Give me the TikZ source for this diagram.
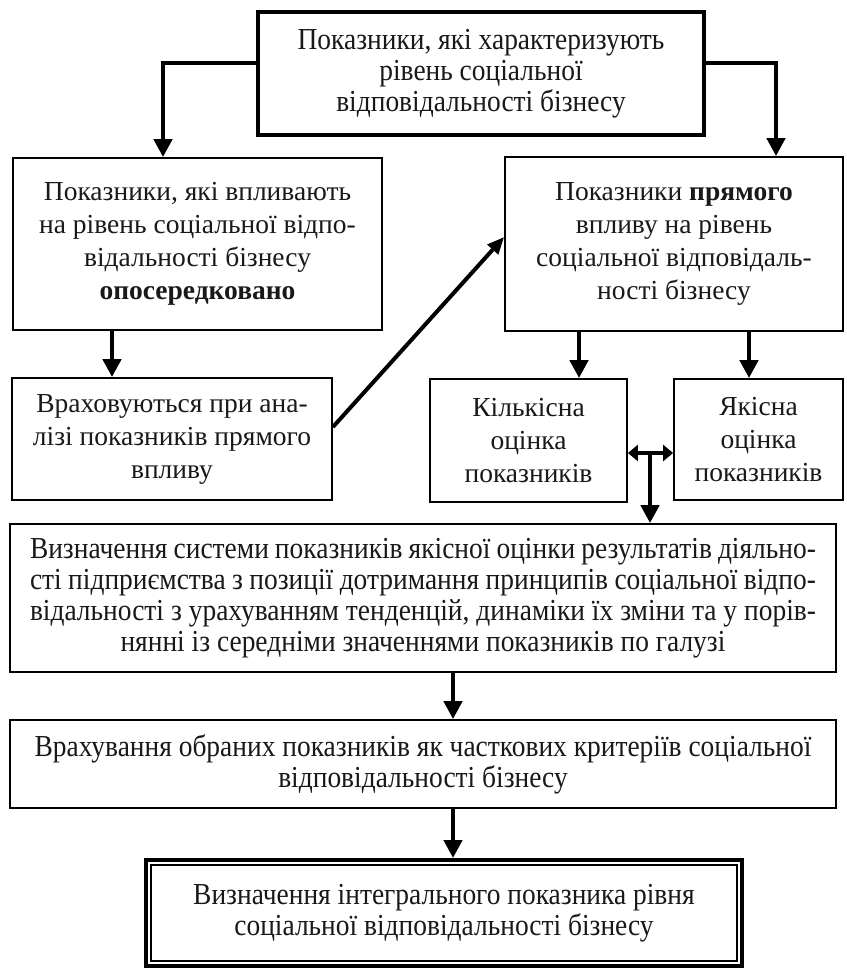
\documentclass[tikz,border=0pt]{standalone}
\usepackage{fontspec}
\setmainfont{Liberation Serif}
\newfontfamily\condfont[FakeStretch=0.9]{Liberation Serif}
\usetikzlibrary{arrows.meta,calc}
\newcommand{\bodyfs}{\fontsize{27.5pt}{33pt}\selectfont}
\newcommand{\condfs}{\condfont\fontsize{30.5pt}{31pt}\selectfont}
\newcommand{\jline}[1]{\makebox[786pt][s]{#1}}
\begin{document}
\begin{tikzpicture}[x=1pt,y=-1pt,
  box/.style={draw=black, line width=1.8pt, inner sep=0pt, align=center, font=\bodyfs, text=black!90},
  arr/.style={line width=4.5pt, -{Triangle[length=18pt,width=18pt]}},
  thinarr/.style={line width=4pt, -{Triangle[length=17pt,width=14pt]}},
  darr/.style={line width=4pt, {Triangle[length=10pt,width=16pt]}-{Triangle[length=10pt,width=16pt]}}
]
\useasboundingbox (0,0) rectangle (846,968);
\fill[white] (0,0) rectangle (846,968);

% boxes
\node[box, line width=4.5pt, minimum width=446pt, minimum height=123pt, font=\condfs] (top) at (481,73.5)
  {Показники, які характеризують\\рівень соціальної\\відповідальності бізнесу};
\node[box, minimum width=369pt, minimum height=172pt] (b1) at (197.5,244)
  {Показники, які впливають\\на рівень соціальної відпо-\\відальності бізнесу\\\textbf{опосередковано}};
\node[box, minimum width=338pt, minimum height=174pt] (b2) at (674,244)
  {Показники \textbf{прямого}\\впливу на рівень\\соціальної відповідаль-\\ності бізнесу};
\node[box, minimum width=320pt, minimum height=122pt] (b3) at (172,439)
  {Враховуються при ана-\\лізі показників прямого\\впливу};
\node[box, minimum width=197pt, minimum height=123pt] (b4) at (528.5,440.5)
  {Кількісна\\оцінка\\показників};
\node[box, minimum width=169pt, minimum height=121pt] (b5) at (758.5,439.5)
  {Якісна\\оцінка\\показників};
\node[box, minimum width=826pt, minimum height=148pt, font=\condfs] (b6) at (423,598)
  {\jline{Визначення системи показників якісної оцінки результатів діяльно-}\\
   \jline{сті підприємства з позиції дотримання принципів соціальної відпо-}\\
   \jline{відальності з урахуванням тенденцій, динаміки їх зміни та у порів-}\\
   нянні із середніми значеннями показників по галузі};
\node[box, minimum width=826pt, minimum height=88pt, font=\condfs] (b7) at (423,764)
  {Врахування обраних показників як часткових критеріїв соціальної\\відповідальності бізнесу};
\node[box, line width=4pt, minimum width=596pt, minimum height=106pt, font=\condfs] (b8) at (444,913)
  {Визначення інтегрального показника рівня\\соціальної відповідальності бізнесу};
\draw[line width=1.3pt] ($(b8.north west)+(7,7)$) rectangle ($(b8.south east)+(-7,-7)$);

% helper coordinates
\coordinate (tl) at (163,63);
\coordinate (tr) at (776,63);
\coordinate (c13) at (112,0);
\coordinate (ds) at (332,427);
\coordinate (de) at (505,237);
\coordinate (c24) at (579,0);
\coordinate (c25) at (749,0);
\coordinate (m) at (650,453);
\coordinate (c67) at (453,0);

% connectors
\draw[arr] (top.west |- tl) -| (b1.north -| tl);
\draw[arr] (top.east |- tr) -| (b2.north -| tr);
\draw[arr] (b1.south -| c13) -- (b3.north -| c13);
\draw[thinarr] (b3.east |- ds) -- (b2.west |- de);
\draw[arr] (b2.south -| c24) -- (b4.north -| c24);
\draw[arr] (b2.south -| c25) -- (b5.north -| c25);
\draw[darr] (b4.east |- m) -- (b5.west |- m);
\draw[arr] (m) -- (b6.north -| m);
\draw[arr] (b6.south -| c67) -- (b7.north -| c67);
\draw[arr] (b7.south -| c67) -- (b8.north -| c67);
\end{tikzpicture}
\end{document}
